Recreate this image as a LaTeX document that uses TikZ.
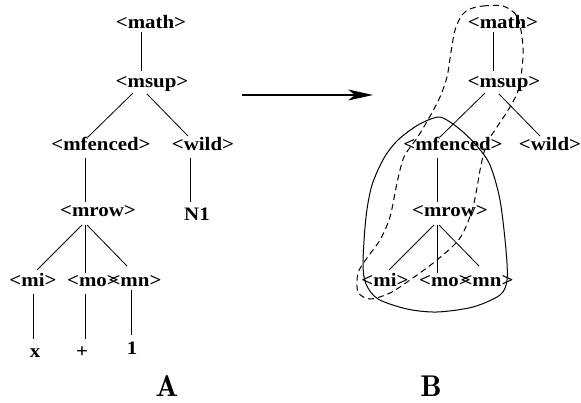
\documentclass[tikz,border=0pt]{standalone}
\usepackage{fontspec}
\newfontfamily\tagfont{Liberation Serif}[FakeStretch=1.1]
\newfontfamily\capfont{Latin Modern Roman Demi}
\usetikzlibrary{arrows.meta}

\begin{document}
\begin{tikzpicture}[x=1pt, y=-1pt, line width=0.8pt,
  tagnode/.style={anchor=base, inner sep=0pt,
                  font=\tagfont\bfseries\fontsize{19}{22}\selectfont},
  partlabel/.style={anchor=base, inner sep=0pt,
                    font=\capfont\fontsize{30}{36}\selectfont}]
  \useasboundingbox (0,0) rectangle (581,403);

  % the same tree twice, B shifted to the right
  \foreach \t/\dx/\wx/\wl in {A/0/203/-15, B/352/198/-10} {
    \begin{scope}[xshift=\dx]
      \node[tagnode] (math\t) at (151,29) {<math>};
      \node[tagnode] (msup\t) at (152,88) {<msup>};
      \node[tagnode] (mfenced\t) at (101,151) {<mfenced>};
      \node[tagnode] (wild\t) at (\wx,151) {<wild>};
      \node[tagnode] (mrow\t) at (98,217) {<mrow>};
      \node[tagnode] (mi\t) at (33,287) {<mi>};
      \node[tagnode] (mo\t) at (93,287) {<mo>};
      \node[tagnode] (mn\t) at (135,287) {<mn>};
    \end{scope}
    \draw ([shift={(-10,3)}]math\t.base) -- ([shift={(-11,-17)}]msup\t.base);
    \draw ([shift={(-19,5)}]msup\t.base) -- ([shift={(-13,-14)}]mfenced\t.base);
    \draw ([shift={(-5,6)}]msup\t.base) -- ([shift={(\wl,-15)}]wild\t.base);
    \draw ([shift={(-16,7)}]mfenced\t.base) -- ([shift={(-13,-15)}]mrow\t.base);
    \draw ([shift={(-16,8)}]mrow\t.base) -- ([shift={(4,-17)}]mi\t.base);
    \draw ([shift={(-13,8)}]mrow\t.base) -- ([shift={(-8,-14)}]mo\t.base);
    \draw ([shift={(-11,8)}]mrow\t.base) -- ([shift={(-8,-21)}]mn\t.base);
  }

  % leaves of A
  \node[tagnode] (N1) at (197,221) {N1};
  \node[tagnode] (x) at (35,357) {x};
  \node[tagnode] (plus) at (82,357) {+};
  \node[tagnode] (one) at (132,354) {1};
  \draw ([shift={(-13,7)}]wildA.base) -- ([shift={(-7,-19)}]N1.base);
  \draw ([shift={(0,7)}]miA.base) -- ([shift={(-2,-18)}]x.base);
  \draw ([shift={(-8,7)}]moA.base) -- ([shift={(3,-18)}]plus.base);
  \draw ([shift={(-4,3)}]mnA.base) -- ([shift={(-1,-19)}]one.base);

  % rewrite arrow
  \coordinate (arrS) at (242,95);
  \coordinate (arrE) at (373,95);
  \draw[-{Stealth[length=25pt, width=11pt, inset=7pt]}, line width=1.1pt]
    (arrS) -- (arrE);

  % matched regions in B
  \draw[line width=1pt] plot[smooth cycle] coordinates {
    (438,117) (450,122) (463,132) (477,146) (490,165) (500,200)
    (506,250) (507,280) (500,295) (473,307) (437,312) (407,309)
    (378,299) (366,284) (363,263) (366,217) (372,185) (384,158)
    (398,140) (418,125)};
  \draw[line width=1pt, dash pattern=on 6pt off 4pt] plot[smooth cycle] coordinates {
    (470,9) (483,6) (503,6) (517,16) (522,37) (523,57) (519,88)
    (510,107) (497,127) (487,143) (481,165) (473,207) (460,238)
    (437,260) (410,280) (390,293) (370,299) (358,292) (358,273)
    (367,258) (380,240) (390,217) (397,183) (404,157) (417,138)
    (429,118) (440,97) (447,77) (451,52) (455,30) (462,15)};

  \node[partlabel] (capA) at (167,396) {A};
  \node[partlabel] (capB) at (431,396) {B};
\end{tikzpicture}
\end{document}
